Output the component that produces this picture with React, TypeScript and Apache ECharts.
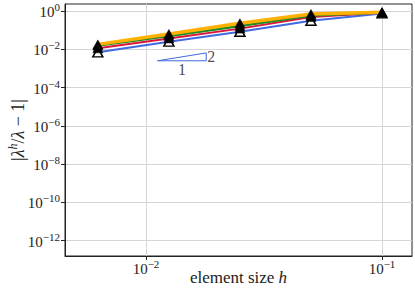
import React, { useEffect, useRef } from "react";
import * as echarts from "echarts";

const hValues = [0.1, 0.05, 0.025, 0.0125, 0.00625];
const blueErr = [0.75, 0.31, 0.083, 0.025, 0.0069];
const redErr = [0.8, 0.49, 0.12, 0.037, 0.0112];
const greenErr = [0.83, 0.58, 0.165, 0.05, 0.0155];
const orangeErr = [0.86, 0.7, 0.23, 0.063, 0.018];
const xTicks = [0.01, 0.1];
const yTicks = [1, 1e-2, 1e-4, 1e-6, 1e-8, 1e-10, 1e-12];
const slopeX = [0.0112, 0.018];
const slopeY0 = 0.0025;
const slopeOrder = 2;

const FONT = "Liberation Serif";

function pow10Label(v: number) {
  const e = Math.round(Math.log10(v));
  const s = e < 0 ? "\u2212" + String(-e) : String(e);
  return "{b|10}{s|" + s + "}";
}

const rich = {
  b: { fontFamily: FONT, fontSize: 15, color: "#222", verticalAlign: "bottom" as const, lineHeight: 17 },
  s: { fontFamily: FONT, fontSize: 11, color: "#222", verticalAlign: "bottom" as const, lineHeight: 17, padding: [0, 0, 7, 0] },
};

export default function App() {
  const ref = useRef<HTMLDivElement>(null);
  useEffect(() => {
    document.body.style.margin = "0";
    const chart = echarts.init(ref.current!, null, { renderer: "svg" });
    const mk = (name: string, data: number[], color: string, width: number, hollow: boolean) => ({
      name,
      type: "line",
      data: hValues.map((h, i) => [h, data[i]]),
      lineStyle: { color, width },
      symbol: "triangle",
      symbolSize: [10, 9],
      itemStyle: hollow
        ? { color: "#fff", borderColor: "#000", borderWidth: 1.5 }
        : { color: "#000", borderColor: "#000", borderWidth: 0.5 },
      z: 2,
    });
    const sx2 = slopeX[1];
    const sx1 = slopeX[0];
    const sy1 = slopeY0 * Math.pow(sx2 / sx1, slopeOrder);
    chart.setOption({
      animation: false,
      grid: { left: 65, top: 4, right: 3, bottom: 37, show: true, borderColor: "#222", borderWidth: 1, containLabel: false, outerBoundsMode: "none" },
      xAxis: {
        type: "log",
        logBase: 10,
        min: 0.004537,
        max: 0.134,
        name: "{n|element size }{i|h}",
        nameLocation: "middle",
        nameGap: 12,
        nameMoveOverlap: false,
        nameTextStyle: {
          rich: {
            n: { fontFamily: FONT, fontSize: 17, color: "#222", lineHeight: 18 },
            i: { fontFamily: FONT, fontSize: 17, fontStyle: "italic", color: "#222", lineHeight: 18 },
          },
        },
        axisLine: { show: true, lineStyle: { color: "#222" } },
        axisTick: { show: true, length: 4, customValues: xTicks, lineStyle: { color: "#222" } },
        axisLabel: { customValues: xTicks, formatter: pow10Label, rich, margin: 3 },
        splitLine: { show: true, lineStyle: { color: "#d5d5d5", width: 1 } },
      },
      yAxis: {
        type: "log",
        logBase: 10,
        min: 1.58e-13,
        max: 2.32,
        name: "{n||}{i|\u03bb}{s|h}{n|/}{i|\u03bb}{n| \u2212 1|}",
        nameLocation: "middle",
        nameRotate: 90,
        nameGap: 38,
        nameMoveOverlap: false,
        nameTextStyle: {
          rich: {
            n: { fontFamily: FONT, fontSize: 18, color: "#222", verticalAlign: "bottom", lineHeight: 20 },
            i: { fontFamily: FONT, fontSize: 18, fontStyle: "italic", color: "#222", verticalAlign: "bottom", lineHeight: 20 },
            s: { fontFamily: FONT, fontSize: 12, fontStyle: "italic", color: "#222", verticalAlign: "bottom", lineHeight: 20, padding: [0, 0, 8, 0] },
          },
        },
        axisLine: { show: true, lineStyle: { color: "#222" } },
        axisTick: { show: true, length: 4, customValues: yTicks, lineStyle: { color: "#222" } },
        axisLabel: { customValues: yTicks, formatter: pow10Label, rich, margin: 5 },
        splitLine: { show: true, lineStyle: { color: "#d5d5d5", width: 1 } },
      },
      series: [
        mk("blue", blueErr, "#4169e1", 2, true),
        mk("red", redErr, "#dc143c", 2, false),
        mk("green", greenErr, "#228b22", 2.5, false),
        mk("orange", orangeErr, "#ffb000", 3.5, false),
        {
          type: "line",
          data: [[sx1, slopeY0], [sx2, sy1], [sx2, slopeY0], [sx1, slopeY0]],
          lineStyle: { color: "#4169e1", width: 1 },
          symbol: "none",
          z: 1,
        },
        {
          type: "scatter",
          symbolSize: 0,
          data: [
            { value: [Math.sqrt(sx1 * sx2), slopeY0], label: { formatter: "1", position: "bottom", distance: 1 } },
            { value: [sx2, Math.sqrt(slopeY0 * sy1)], label: { formatter: String(slopeOrder), position: "right", distance: 1 } },
          ],
          label: { show: true, fontFamily: FONT, fontSize: 16, color: "#222" },
          z: 1,
        },
      ],
    });
    return () => chart.dispose();
  }, []);
  return <div ref={ref} style={{ width: 415, height: 293 }} />;
}
